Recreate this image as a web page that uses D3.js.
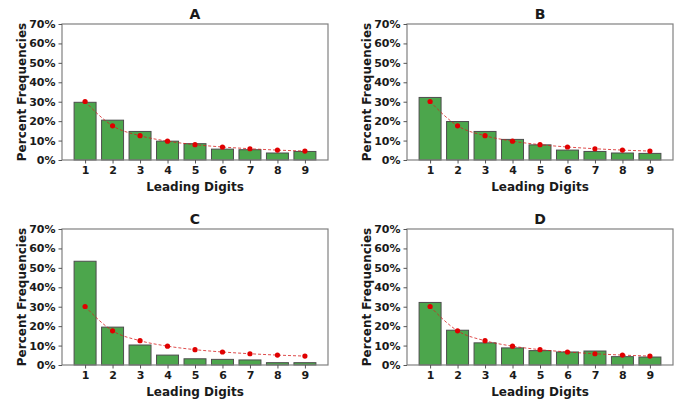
<!DOCTYPE html>
<html>
<head>
<meta charset="utf-8">
<script src="https://cdn.jsdelivr.net/npm/d3@7"></script>
<style>
  body { margin: 0; background: #fff; }
  text { font-family: "DejaVu Sans", sans-serif; font-weight: bold; fill: #1a1a1a; }
</style>
</head>
<body>
<svg id="chart" width="680" height="405"></svg>
<script>
// leading digits and Benford expectation
const digits = [1, 2, 3, 4, 5, 6, 7, 8, 9];
const benford = [30.1, 17.6, 12.5, 9.7, 7.9, 6.7, 5.8, 5.1, 4.6];
const panelTitles = ['A', 'B', 'C', 'D'];
const valuesA = [29.7, 20.5, 14.7, 9.7, 8.4, 5.6, 5.3, 3.6, 4.4];
const valuesB = [32.2, 19.8, 14.7, 10.6, 7.8, 5.1, 4.4, 3.6, 3.4];
const valuesC = [53.4, 19.5, 10.3, 5.1, 3.2, 2.9, 2.6, 1.2, 1.2];
const valuesD = [32.2, 17.9, 11.4, 8.8, 7.4, 6.7, 7.2, 4.3, 4.1];
const yTicks = [0, 10, 20, 30, 40, 50, 60, 70];

const panels = [
  { title: panelTitles[0], values: valuesA, left: 62, top: 24 },
  { title: panelTitles[1], values: valuesB, left: 407, top: 24 },
  { title: panelTitles[2], values: valuesC, left: 62, top: 229 },
  { title: panelTitles[3], values: valuesD, left: 407, top: 229 }
];

const w = 266, h = 136;
const svg = d3.select('#chart');

panels.forEach(p => {
  const g = svg.append('g').attr('transform', `translate(${p.left},${p.top})`);

  const x = d3.scaleLinear().domain([0.16, 9.84]).range([0, w]);
  const y = d3.scaleLinear().domain([0, 70]).range([h, 0]);
  const barW = x(1.4) - x(0.6);

  // bars
  g.selectAll('rect.bar')
    .data(p.values)
    .enter().append('rect')
      .attr('class', 'bar')
      .attr('x', (d, i) => x(digits[i]) - barW / 2)
      .attr('y', d => y(d))
      .attr('width', barW)
      .attr('height', d => h - y(d))
      .attr('fill', '#4ca64c')
      .attr('stroke', '#4d4d4d')
      .attr('stroke-width', 1);

  // benford line
  const line = d3.line()
    .x((d, i) => x(digits[i]))
    .y(d => y(d))
    .curve(d3.curveMonotoneX);

  g.append('path')
    .datum(benford)
    .attr('d', line)
    .attr('fill', 'none')
    .attr('stroke', '#d62020')
    .attr('stroke-width', 1)
    .attr('stroke-dasharray', '3,2')
    .attr('opacity', 0.8);

  g.selectAll('circle')
    .data(benford)
    .enter().append('circle')
      .attr('cx', (d, i) => x(digits[i]))
      .attr('cy', d => y(d))
      .attr('r', 2.6)
      .attr('fill', '#e00000');

  // frame
  g.append('rect')
    .attr('width', w)
    .attr('height', h)
    .attr('fill', 'none')
    .attr('stroke', '#808080')
    .attr('stroke-width', 1.2);

  // axes
  const xAxis = g.append('g')
    .attr('transform', `translate(0,${h})`)
    .call(d3.axisBottom(x).tickValues(digits).tickFormat(d3.format('d')).tickSize(3.5).tickPadding(3));
  const yAxis = g.append('g')
    .call(d3.axisLeft(y).tickValues(yTicks).tickFormat(d => d + '%').tickSize(3.5).tickPadding(3));

  [xAxis, yAxis].forEach(a => {
    a.select('.domain').remove();
    a.selectAll('line').attr('stroke', '#555');
    a.selectAll('text').attr('font-size', 11).attr('fill', '#1a1a1a').attr('font-family', '"DejaVu Sans", sans-serif');
  });

  g.append('text')
    .attr('x', w / 2)
    .attr('y', -5)
    .attr('text-anchor', 'middle')
    .attr('font-size', 14)
    .text(p.title);

  g.append('text')
    .attr('x', w / 2)
    .attr('y', h + 31)
    .attr('text-anchor', 'middle')
    .attr('font-size', 12)
    .text('Leading Digits');

  g.append('text')
    .attr('transform', `translate(-36,${h / 2}) rotate(-90)`)
    .attr('text-anchor', 'middle')
    .attr('font-size', 12)
    .text('Percent Frequencies');
});
</script>
</body>
</html>
